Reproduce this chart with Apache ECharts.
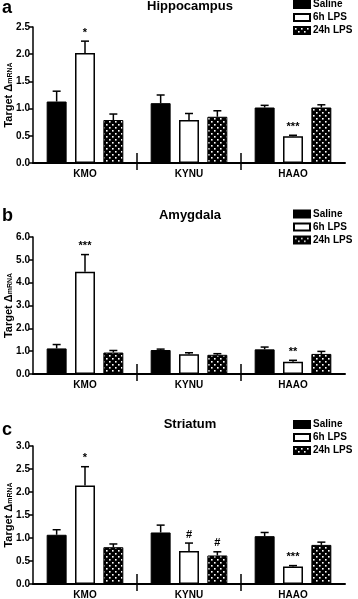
<!DOCTYPE html>
<html>
<head>
<meta charset="utf-8">
<script src="https://cdn.jsdelivr.net/npm/echarts@6/dist/echarts.min.js"></script>
<style>
  html, body { margin: 0; padding: 0; background: #fff; }
  #chart { width: 358px; height: 599px; }
</style>
</head>
<body>
<div id="chart"></div>
<script>
const categories = ["KMO", "KYNU", "HAAO"];
const groups = ["Saline", "6h LPS", "24h LPS"];
const panelTitles = ["Hippocampus", "Amygdala", "Striatum"];
const panelLetters = ["a", "b", "c"];

// hippocampus
const hippoSaline = [1.13, 1.10, 1.02];
const hippo6h = [2.02, 0.79, 0.49];
const hippo24h = [0.79, 0.85, 1.02];
const hippoSalineErr = [0.19, 0.15, 0.04];
const hippo6hErr = [0.22, 0.12, 0.02];
const hippo24hErr = [0.11, 0.11, 0.05];
const hippoMarks = [["", "*", ""], ["", "", ""], ["", "***", ""]];

// amygdala
const amySaline = [1.12, 1.05, 1.08];
const amy6h = [4.48, 0.86, 0.54];
const amy24h = [0.94, 0.84, 0.88];
const amySalineErr = [0.17, 0.04, 0.10];
const amy6hErr = [0.75, 0.07, 0.06];
const amy24hErr = [0.09, 0.05, 0.11];
const amyMarks = [["", "***", ""], ["", "", ""], ["", "**", ""]];

// striatum
const striSaline = [1.07, 1.12, 1.04];
const stri6h = [2.14, 0.72, 0.38];
const stri24h = [0.80, 0.62, 0.85];
const striSalineErr = [0.11, 0.16, 0.08];
const stri6hErr = [0.41, 0.17, 0.02];
const stri24hErr = [0.07, 0.08, 0.06];
const striMarks = [["", "*", ""], ["", "#", "#"], ["", "***", ""]];

const yMax = [2.5, 6, 3];
const yStep = [0.5, 1, 0.5];
const separators = [1, 2];

const panels = [
    { means: [hippoSaline, hippo6h, hippo24h], errs: [hippoSalineErr, hippo6hErr, hippo24hErr], marks: hippoMarks },
    { means: [amySaline, amy6h, amy24h], errs: [amySalineErr, amy6hErr, amy24hErr], marks: amyMarks },
    { means: [striSaline, stri6h, stri24h], errs: [striSalineErr, stri6hErr, stri24hErr], marks: striMarks }
];

const FONT = "Liberation Sans, Arial, sans-serif";
const BAR_W = 0.192;
const BAR_GAP = 0.42;

const gridTops = [27, 237, 446];
const gridHeights = [136, 137, 138];
const legendTops = [-1, 208.5, 419];
const titleTops = [0, 209, 418];
const letterTops = [-1, 207, 421];

// dotted fill for 24h LPS
const dots = document.createElement("canvas");
dots.width = 6;
dots.height = 6;
const dctx = dots.getContext("2d");
dctx.fillStyle = "#000";
dctx.fillRect(0, 0, 6, 6);
dctx.fillStyle = "#fff";
dctx.fillRect(1, 1, 1.6, 1.6);
dctx.fillRect(4, 4, 1.6, 1.6);

const barStyles = [
    { color: "#000", borderColor: "#000", borderWidth: 1 },
    { color: "#fff", borderColor: "#000", borderWidth: 1.5 },
    { color: { image: dots, repeat: "repeat" }, borderColor: "#000", borderWidth: 1 }
];

const grid = [];
const xAxis = [];
const yAxis = [];
const legend = [];
const series = [];
const graphic = [];

panels.forEach((p, i) => {
    grid.push({ left: 33, right: 13, top: gridTops[i], height: gridHeights[i], outerBoundsMode: "none" });

    xAxis.push({
        type: "category",
        gridIndex: i,
        data: categories,
        axisLine: { lineStyle: { color: "#000", width: 2 } },
        axisTick: { alignWithLabel: true, length: 3, lineStyle: { color: "#000", width: 1.5 } },
        axisLabel: { color: "#000", fontFamily: FONT, fontWeight: "bold", fontSize: 10, margin: 6 }
    });

    yAxis.push({
        type: "value",
        gridIndex: i,
        min: 0,
        max: yMax[i],
        interval: yStep[i],
        name: "{t|Target Δ}{s|mRNA}",
        nameLocation: "middle",
        nameGap: 19,
        nameMoveOverlap: false,
        nameTextStyle: {
            rich: {
                t: { fontFamily: FONT, fontWeight: "bold", fontSize: 11, color: "#000" },
                s: { fontFamily: FONT, fontWeight: "bold", fontSize: 7, color: "#000", padding: [4, 0, 0, 0] }
            }
        },
        axisLine: { show: true, lineStyle: { color: "#000", width: 1.5 } },
        axisTick: { show: true, length: 4, lineStyle: { color: "#000", width: 1.5 } },
        splitLine: { show: false },
        axisLabel: {
            color: "#000", fontFamily: FONT, fontWeight: "bold", fontSize: 10, margin: 3,
            formatter: v => v.toFixed(1)
        }
    });

    legend.push({
        orient: "vertical",
        left: 293,
        top: legendTops[i],
        padding: 0,
        icon: "rect",
        itemWidth: 16,
        itemHeight: 7,
        itemGap: 2,
        selectedMode: false,
        data: groups,
        textStyle: { fontFamily: FONT, fontWeight: "bold", fontSize: 10, color: "#000", lineHeight: 11, padding: [0, 0, 0, -2] }
    });

    groups.forEach((g, k) => {
        series.push({
            name: g,
            type: "bar",
            xAxisIndex: i,
            yAxisIndex: i,
            data: p.means[k],
            barWidth: (BAR_W * 100) + "%",
            barGap: (BAR_GAP * 100) + "%",
            itemStyle: barStyles[k],
            emphasis: { disabled: true },
            z: 2
        });
    });

    // error bars and significance marks
    const errData = [];
    const errMarks = [];
    categories.forEach((c, ci) => {
        groups.forEach((g, k) => {
            errData.push([ci, k, p.means[k][ci], p.errs[k][ci]]);
            errMarks.push(p.marks[ci][k]);
        });
    });

    series.push({
        type: "custom",
        xAxisIndex: i,
        yAxisIndex: i,
        clip: false,
        z: 5,
        silent: true,
        data: errData,
        renderItem: (params, api) => {
            const ci = api.value(0);
            const k = api.value(1);
            const mean = api.value(2);
            const err = api.value(3);
            const band = api.size([1, 0])[0];
            const step = band * BAR_W * (1 + BAR_GAP);
            const base = api.coord([ci, mean]);
            const top = api.coord([ci, mean + err]);
            const x = base[0] + (k - 1) * step;
            const children = [
                { type: "line", shape: { x1: x, y1: base[1], x2: x, y2: top[1] }, style: { stroke: "#000", lineWidth: 1.5 } },
                { type: "line", shape: { x1: x - 4, y1: top[1], x2: x + 4, y2: top[1] }, style: { stroke: "#000", lineWidth: 1.5 } }
            ];
            const mark = errMarks[params.dataIndex];
            if (mark) {
                children.push({
                    type: "text",
                    x: x,
                    y: top[1] - 3,
                    style: {
                        text: mark,
                        align: "center",
                        verticalAlign: "bottom",
                        font: "bold 11px " + FONT,
                        fill: "#000"
                    }
                });
            }
            return { type: "group", children: children };
        }
    });

    // category separators
    series.push({
        type: "custom",
        xAxisIndex: i,
        yAxisIndex: i,
        clip: false,
        z: 5,
        silent: true,
        data: separators.map(s => [s, 0]),
        renderItem: (params, api) => {
            const band = api.size([1, 0])[0];
            const pt = api.coord([api.value(0), 0]);
            const x = pt[0] - band / 2;
            return {
                type: "line",
                shape: { x1: x, y1: pt[1] - 10, x2: x, y2: pt[1] + 7 },
                style: { stroke: "#000", lineWidth: 1.5 }
            };
        }
    });

    graphic.push({
        type: "text",
        x: 190,
        y: titleTops[i],
        style: { text: panelTitles[i], font: "bold 13px " + FONT, fill: "#000", align: "center", verticalAlign: "top" }
    });
    graphic.push({
        type: "text",
        x: 2,
        y: letterTops[i],
        style: { text: panelLetters[i], font: "bold 18px " + FONT, fill: "#000", verticalAlign: "top" }
    });
});

const chart = echarts.init(document.getElementById("chart"));
chart.setOption({
    animation: false,
    backgroundColor: "#fff",
    grid: grid,
    xAxis: xAxis,
    yAxis: yAxis,
    legend: legend,
    series: series,
    graphic: graphic
});
</script>
</body>
</html>
